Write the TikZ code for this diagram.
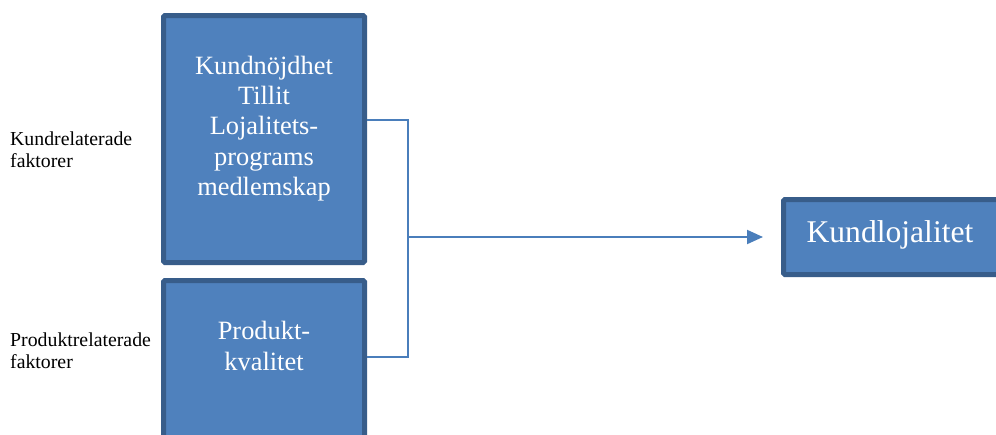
\documentclass[tikz,border=0pt]{standalone}
\usepackage{fontspec}
\setmainfont{Liberation Serif}
\usetikzlibrary{arrows.meta}
\definecolor{boxfill}{HTML}{4F81BD}
\definecolor{boxedge}{HTML}{385D8A}
\definecolor{connc}{HTML}{4A7EBB}
\tikzset{
  bluebox/.style={draw=boxedge, fill=boxfill, line width=5pt, rounded corners=1.5pt, inner sep=0pt},
  boxtext/.style={text=white, align=center, inner sep=0pt, font=\fontsize{26.4}{30.25}\selectfont},
  sidelabel/.style={text=black, align=left, inner sep=0pt, anchor=west, font=\fontsize{19.8}{22.3}\selectfont},
  conn/.style={draw=connc, line width=2pt},
}
\begin{document}
\begin{tikzpicture}[x=1pt, y=-1pt]
\clip (0,0) rectangle (996,434);
\fill[white] (0,0) rectangle (996,434);
% boxes
\node[bluebox, minimum width=201pt, minimum height=247pt] (top) at (264,139) {};
\node[bluebox, minimum width=201pt, minimum height=167pt] (bot) at (264,364) {};
\node[bluebox, minimum width=215pt, minimum height=75pt] (kl) at (891,237) {};
% box texts
\node[boxtext] (toptext) at (264,128.4) {Kundnöjdhet\\Tillit\\Lojalitets-\\programs\\medlemskap};
\node[boxtext] (bottext) at (264,346) {Produkt-\\kvalitet};
\node[boxtext, anchor=base, font=\fontsize{31.6}{36}\selectfont] (kltext) at (890,242) {Kundlojalitet};
% side labels
\node[sidelabel] (lab1) at (10,149.6) {Kundrelaterade\\faktorer};
\node[sidelabel] (lab2) at (10,350.6) {Produktrelaterade\\faktorer};
% connectors
\coordinate (j1) at (408,120);
\coordinate (j2) at (408,357);
\coordinate (jm) at (408,237);
\draw[conn] (top.east |- j1) -- (j1) -- (j2) -- (bot.east |- j2);
\draw[conn, -{Triangle[length=16pt,width=14pt]}, shorten >=18pt] (jm) -- (kl.west);
\end{tikzpicture}
\end{document}
